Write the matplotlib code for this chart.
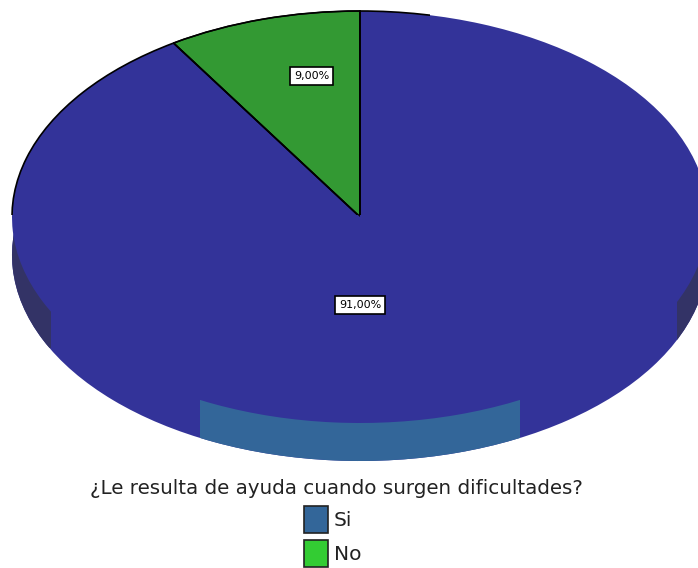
import matplotlib
matplotlib.use("Agg")
import matplotlib.pyplot as plt
from matplotlib.patches import Rectangle

# respuestas (orden de dibujo: No primero desde las 12 en punto)
etiquetas = ["No", "Si"]
porcentajes = [9.0, 91.0]
titulo = "¿Le resulta de ayuda cuando surgen dificultades?"
orden_leyenda = ["Si", "No"]

AZUL = "#333399"
AZUL_FRENTE = "#336699"
AZUL_LADO = "#333366"
VERDE = "#339933"
colores_cara = {"Si": AZUL, "No": VERDE}
colores_leyenda = {"Si": "#336699", "No": "#33cc33"}

W, H = 698, 568
fig = plt.figure(figsize=(W / 100, H / 100), dpi=100)


def eje_pastel(x0, y0, x1, y1, z):
    # ejes en pixeles (origen arriba a la izquierda)
    ax = fig.add_axes([x0 / W, 1 - y1 / H, (x1 - x0) / W, (y1 - y0) / H])
    ax.set_zorder(z)
    ax.patch.set_alpha(0)
    return ax


def ajustar(ax):
    ax.set_xlim(-1, 1)
    ax.set_ylim(-1, 1)
    ax.set_aspect("auto")
    ax.axis("off")


def recortar(cuñas, x0, y0, x1, y1):
    caja = Rectangle((x0 / W, 1 - y1 / H), (x1 - x0) / W, (y1 - y0) / H,
                     transform=fig.transFigure)
    for w in cuñas:
        w.set_clip_on(True)  # pie() las crea con clip_on=False
        w.set_clip_path(caja)


# cuerpo del pastel (cara inferior desplazada hacia abajo)
grosor = 38
ax_lado = eje_pastel(12, 11 + grosor, 708, 423 + grosor, 1)
ax_lado.pie(porcentajes, colors=[AZUL, AZUL], startangle=90, radius=1)
frente, _ = ax_lado.pie(porcentajes, colors=[AZUL_FRENTE] * 2,
                        startangle=90, radius=1)
recortar(frente, 200, 0, 520, H)
for caja in [(0, 212, 51, 348), (677, 262, 698, 340)]:
    lados, _ = ax_lado.pie(porcentajes, colors=[AZUL_LADO] * 2,
                           startangle=90, radius=1)
    recortar(lados, *caja)
ajustar(ax_lado)

# cara superior
ax_top = eje_pastel(12, 11, 708, 423, 2)
cuñas, _, textos = ax_top.pie(
    porcentajes, colors=[colores_cara[e] for e in etiquetas],
    startangle=90, radius=1,
    autopct=lambda p: f"{p:.2f}%".replace(".", ","),
    textprops=dict(fontsize=8, family="DejaVu Sans", color="black"))
cuñas[0].set_edgecolor("black")
cuñas[0].set_linewidth(1.0)
# borde oscuro solo en la parte alta izquierda del contorno
borde, _ = ax_top.pie(porcentajes, colors=["none", "none"], startangle=90,
                      radius=1, wedgeprops=dict(edgecolor="black", lw=1.2))
recortar(borde, 0, 0, 430, 215)
for t, pos in zip(textos, [(-0.138, 0.684), (0.0, -0.427)]):
    t.set_position(pos)
    t.set_ha("center")
    t.set_va("center")
    t.set_bbox(dict(boxstyle="square,pad=0.35", fc="white", ec="black", lw=1.2))
ajustar(ax_top)

# titulo y leyenda
ax = fig.add_axes([0, 0, 1, 1])
ax.set_zorder(3)
ax.patch.set_alpha(0)
ax.set_xlim(0, W)
ax.set_ylim(H, 0)
ax.axis("off")
ax.text(336, 489, titulo, ha="center", va="center", fontsize=14.3,
        family="DejaVu Sans", color="#222222")
for i, e in enumerate(orden_leyenda):
    y = 506 + i * 34
    ax.add_patch(Rectangle((304, y), 24, 27, fc=colores_leyenda[e],
                           ec="#222222", lw=1.2))
    ax.text(334, y + 14, e, ha="left", va="center", fontsize=14.5,
            family="DejaVu Sans", color="#222222")

fig.savefig("out.png", dpi=100)
